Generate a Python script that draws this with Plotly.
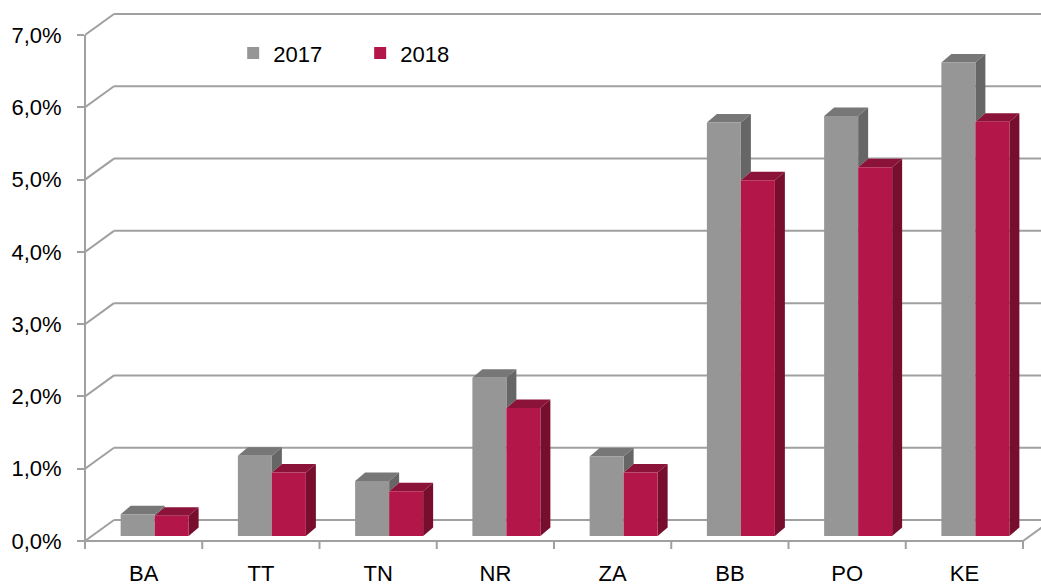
import plotly.graph_objects as go

# ---- data ----
categories = ["BA", "TT", "TN", "NR", "ZA", "BB", "PO", "KE"]
series_names = ["2017", "2018"]
values_2017 = [0.0030, 0.0111, 0.0076, 0.0219, 0.0110, 0.0572, 0.0581, 0.0655]
values_2018 = [0.0028, 0.0088, 0.0062, 0.0177, 0.0088, 0.0492, 0.0510, 0.0573]
y_ticks = [0.0, 0.01, 0.02, 0.03, 0.04, 0.05, 0.06, 0.07]

# ---- styling / geometry ----
FONT = "Liberation Sans Narrow, Arial Narrow, Liberation Sans, Arial, sans-serif"
FS = 22
W, H = 1041, 585
ML, MR, MT, MB = 85, 0, 10, 35
plot_w = W - ML - MR
plot_h = H - MT - MB
px_per_cat = 117.25
px_per_unit = 506 / 0.07
x_range = [-0.5, -0.5 + plot_w / px_per_cat]
y_zero_px = 541 - MT
y_range = [-(plot_h - y_zero_px) / px_per_unit, y_zero_px / px_per_unit]

# oblique depth of the walls and of the bars (pixels -> data units)
wall_dx = 29 / px_per_cat
wall_dy = 21 / px_per_unit
bar_dx = 10 / px_per_cat
bar_dy = 8.5 / px_per_unit
bar_base = 5 / px_per_unit
bar_w = 34 / px_per_cat
off_gray = -23 / px_per_cat
off_red = off_gray + bar_w
tick_down = 8 / px_per_unit

GRID = "#a0a0a0"
colors = {
    "2017": ("#969696", "#777777", "#666666"),
    "2018": ("#b3174a", "#8b1238", "#770e2e"),
}

fig = go.Figure()
for name, vals, off in [("2017", values_2017, off_gray), ("2018", values_2018, off_red)]:
    fig.add_trace(go.Bar(
        x=categories, y=vals, base=bar_base, name=name,
        offset=off, width=bar_w,
        marker=dict(color=colors[name][0], line=dict(width=0)),
        hoverinfo="skip",
    ))

shapes = []
line = dict(color=GRID, width=2)
# back wall grid lines and side-wall diagonals
for v in y_ticks:
    shapes.append(dict(type="line", xref="x", yref="y", layer="below",
                       x0=-0.5, y0=v, x1=-0.5 + wall_dx, y1=v + wall_dy, line=line))
    shapes.append(dict(type="line", xref="x", yref="y", layer="below",
                       x0=-0.5 + wall_dx, y0=v + wall_dy, x1=x_range[1] + 1, y1=v + wall_dy, line=line))
# floor front edge and right diagonal
n = len(categories)
shapes.append(dict(type="line", xref="x", yref="y", layer="below",
                   x0=-0.5, y0=0, x1=n - 0.5, y1=0, line=line))
shapes.append(dict(type="line", xref="x", yref="y", layer="below",
                   x0=n - 0.5, y0=0, x1=n - 0.5 + wall_dx, y1=wall_dy, line=line))
# category boundary ticks
for k in range(1, n + 1):
    shapes.append(dict(type="line", xref="x", yref="y", layer="below",
                       x0=k - 0.5, y0=0, x1=k - 0.5, y1=-tick_down, line=line))
# vertical value axis line
shapes.append(dict(type="line", xref="paper", yref="y", layer="below",
                   x0=0, y0=y_ticks[-1], x1=0, y1=-tick_down, line=line))


def poly(pts, color):
    path = "M " + " L ".join(f"{x},{y}" for x, y in pts) + " Z"
    return dict(type="path", xref="x", yref="y", layer="below", path=path,
                fillcolor=color, line=dict(width=0))


# 3D top and side faces of the bars (derived from the data values)
for i in range(n):
    g = values_2017[i] + bar_base
    r = values_2018[i] + bar_base
    gx0 = i + off_gray
    gx1 = gx0 + bar_w
    rx0 = i + off_red
    rx1 = rx0 + bar_w
    shapes.append(poly([(gx0, g), (gx1, g), (gx1 + bar_dx, g + bar_dy), (gx0 + bar_dx, g + bar_dy)],
                       colors["2017"][1]))
    lo = max(min(g, r), bar_base)
    shapes.append(poly([(gx1, g), (gx1 + bar_dx, g + bar_dy), (gx1 + bar_dx, lo + bar_dy), (gx1, lo)],
                       colors["2017"][2]))
    shapes.append(poly([(rx0, r), (rx1, r), (rx1 + bar_dx, r + bar_dy), (rx0 + bar_dx, r + bar_dy)],
                       colors["2018"][1]))
    shapes.append(poly([(rx1, bar_base), (rx1, r), (rx1 + bar_dx, r + bar_dy), (rx1 + bar_dx, bar_base + bar_dy)],
                       colors["2018"][2]))

fig.update_layout(
    width=W, height=H,
    margin=dict(l=ML, r=MR, t=MT, b=MB, pad=0, autoexpand=False),
    paper_bgcolor="white",
    plot_bgcolor="rgba(0,0,0,0)",
    separators=", ",
    font=dict(family=FONT, size=FS, color="#000000"),
    barmode="overlay",
    shapes=shapes,
    showlegend=True,
    legend=dict(
        orientation="h", x=0.155, y=0.92, xanchor="left", yanchor="middle",
        font=dict(family=FONT, size=FS, color="#000000"),
        bgcolor="rgba(0,0,0,0)", itemsizing="constant",
        entrywidth=82, entrywidthmode="pixels", traceorder="normal",
    ),
    xaxis=dict(
        type="category", categoryorder="array", categoryarray=categories,
        range=x_range, showgrid=False, zeroline=False, showline=False,
        ticks="", tickfont=dict(family=FONT, size=FS, color="#000000"),
        ticklabelstandoff=8, fixedrange=True, automargin=False,
    ),
    yaxis=dict(
        range=y_range, tickvals=y_ticks, tickformat=".1%",
        showgrid=False, zeroline=False, showline=False,
        ticks="outside", ticklen=7, tickwidth=2, tickcolor=GRID,
        tickfont=dict(family=FONT, size=FS, color="#000000"),
        ticklabelstandoff=11, fixedrange=True, automargin=False,
    ),
)

fig.write_html(
    "out.html",
    config={"displayModeBar": False},
    post_script="document.body.style.margin='0';document.body.style.overflow='hidden';",
)
